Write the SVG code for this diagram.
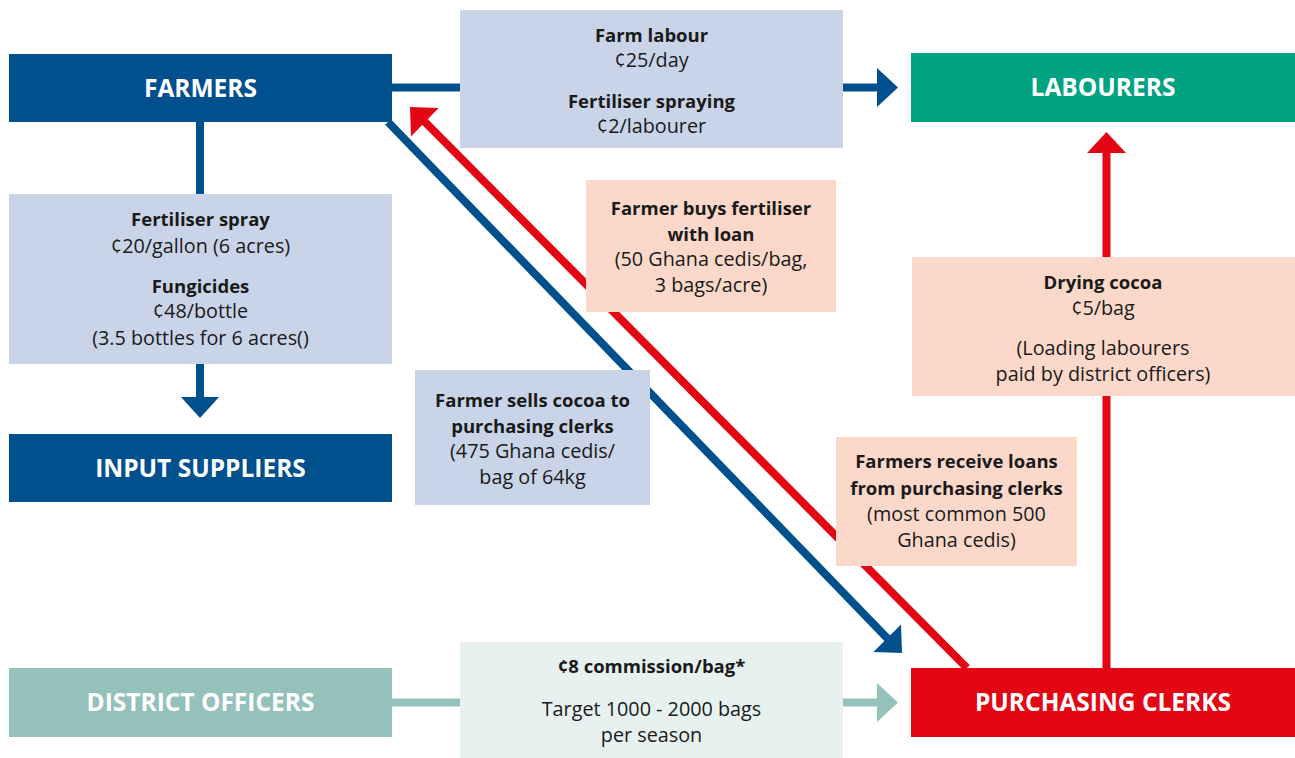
<svg xmlns="http://www.w3.org/2000/svg" width="1295" height="758" viewBox="0 0 1295 758">
<style>
text{font-family:"Open Sans","Liberation Sans",sans-serif;text-anchor:middle;fill:#1a1a1a}
.t{font-size:24.5px;font-weight:700;fill:#fff}
.b{font-size:18.5px;font-weight:700}
.r{font-size:19.8px}
.db{fill:#00508E}
.lb{fill:#C9D4E8}
.pk{fill:#FBD8C9}
.ln{fill:none;stroke-width:8}
</style>
<rect width="1295" height="758" fill="#fff"/>
<g id="connectors">
<line class="ln" x1="392" y1="87.5" x2="879" y2="87.5" stroke="#00508E"/>
<polygon points="877,68 898,87.5 877,107" fill="#00508E"/>
<line class="ln" x1="200" y1="122" x2="200" y2="399" stroke="#00508E"/>
<polygon points="181,397 219,397 200,418" fill="#00508E"/>
<line class="ln" x1="388" y1="122" x2="888" y2="639" stroke="#00508E"/>
<polygon points="901,624.4 902,653 873.4,652" fill="#00508E"/>
<line class="ln" x1="967" y1="668" x2="424" y2="121" stroke="#E30613"/>
<polygon points="410,107 438.6,108 411,136.6" fill="#E30613"/>
<line class="ln" x1="1106.5" y1="668" x2="1106.5" y2="151" stroke="#E30613"/>
<polygon points="1087,153 1126,153 1106.5,132" fill="#E30613"/>
<line class="ln" x1="392" y1="702.5" x2="879" y2="702.5" stroke="#95C1BC"/>
<polygon points="877,683 898,702.5 877,722" fill="#95C1BC"/>
</g>
<g id="farmers"><rect class="db" x="9" y="54" width="383" height="68"/><text class="t" x="200.5" y="97">FARMERS</text></g>
<g id="labourers"><rect x="911" y="53" width="384" height="69" fill="#00A381"/><text class="t" x="1103" y="96">LABOURERS</text></g>
<g id="input-suppliers"><rect class="db" x="9" y="434" width="383" height="68"/><text class="t" x="200.5" y="477">INPUT SUPPLIERS</text></g>
<g id="district-officers"><rect x="9" y="668" width="383" height="69" fill="#95C1BC"/><text class="t" x="200.5" y="711">DISTRICT OFFICERS</text></g>
<g id="purchasing-clerks"><rect x="911" y="668" width="384" height="69" fill="#E30613"/><text class="t" x="1103" y="711">PURCHASING CLERKS</text></g>
<g id="farm-labour"><rect class="lb" x="460" y="10" width="383" height="138"/>
<text class="b" x="651.5" y="42">Farm labour</text>
<text class="r" x="651.5" y="67">¢25/day</text>
<text class="b" x="651.5" y="108">Fertiliser spraying</text>
<text class="r" x="651.5" y="133">¢2/labourer</text></g>
<g id="inputs"><rect class="lb" x="9" y="194" width="383" height="170"/>
<text class="b" x="200.5" y="226">Fertiliser spray</text>
<text class="r" x="200.5" y="253">¢20/gallon (6 acres)</text>
<text class="b" x="200.5" y="293">Fungicides</text>
<text class="r" x="200.5" y="318">¢48/bottle</text>
<text class="r" x="200.5" y="345">(3.5 bottles for 6 acres()</text></g>
<g id="farmer-buys"><rect class="pk" x="586" y="180" width="250" height="132"/>
<text class="b" x="711" y="215">Farmer buys fertiliser</text>
<text class="b" x="711" y="241">with loan</text>
<text class="r" x="711" y="266">(50 Ghana cedis/bag,</text>
<text class="r" x="711" y="292">3 bags/acre)</text></g>
<g id="drying-cocoa"><rect class="pk" x="912" y="257" width="383" height="139"/>
<text class="b" x="1103" y="289">Drying cocoa</text>
<text class="r" x="1103" y="315">¢5/bag</text>
<text class="r" x="1103" y="355">(Loading labourers</text>
<text class="r" x="1103" y="381">paid by district officers)</text></g>
<g id="farmer-sells"><rect class="lb" x="415" y="370" width="235" height="135"/>
<text class="b" x="532.5" y="407">Farmer sells cocoa to</text>
<text class="b" x="532.5" y="433">purchasing clerks</text>
<text class="r" x="532.5" y="458">(475 Ghana cedis/</text>
<text class="r" x="532.5" y="484">bag of 64kg</text></g>
<g id="loans"><rect class="pk" x="836" y="437" width="241" height="129"/>
<text class="b" x="956.5" y="468">Farmers receive loans</text>
<text class="b" x="956.5" y="495">from purchasing clerks</text>
<text class="r" x="956.5" y="521">(most common 500</text>
<text class="r" x="956.5" y="547">Ghana cedis)</text></g>
<g id="commission"><rect x="460" y="642" width="383" height="116" fill="#E7F1F0"/>
<text class="b" x="651.5" y="673">¢8 commission/bag*</text>
<text class="r" x="651.5" y="716">Target 1000 - 2000 bags</text>
<text class="r" x="651.5" y="742">per season</text></g>
</svg>
